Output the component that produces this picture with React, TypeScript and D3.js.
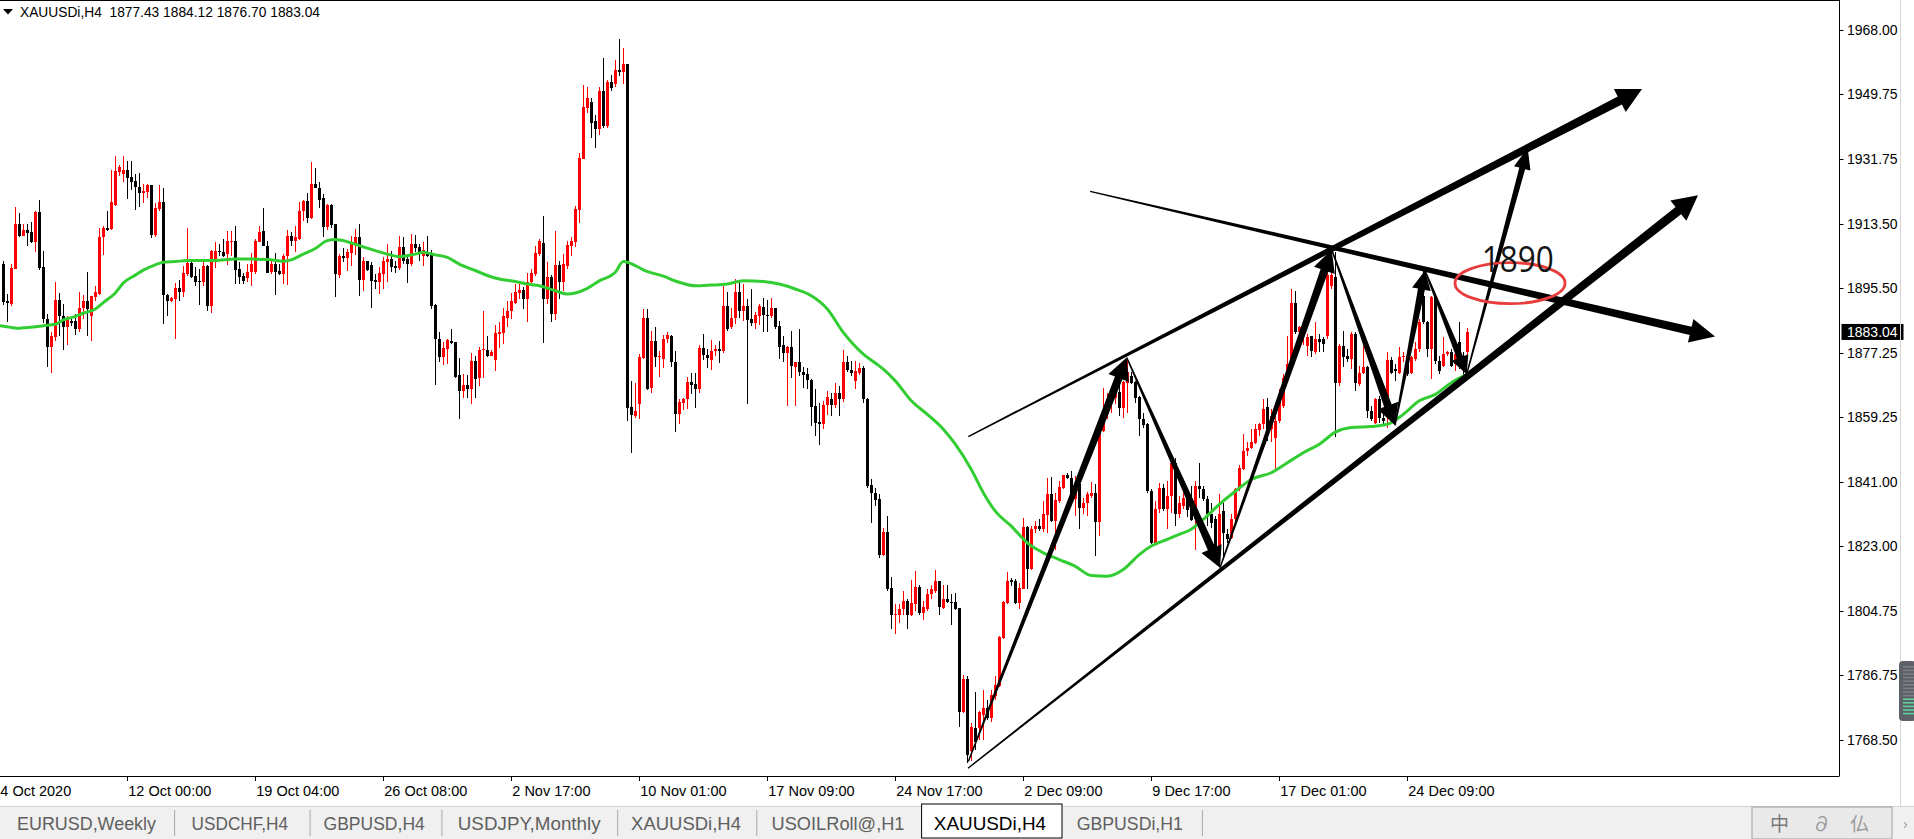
import React from 'react';
import * as d3 from 'd3';

// ---------- DATA (XAUUSDi, H4) ----------
const opens = [
1902.1,1891.6,1890.9,1900.7,1913.4,1910.1,1911.8,1911.0,1908.2,1916.7,
1901.2,1886.7,1878.7,1881.5,1892.0,1887.6,1884.3,1886.0,1886.0,1883.8,
1889.8,1891.6,1887.4,1893.0,1893.7,1909.6,1912.2,1912.0,1918.6,1927.9,
1927.5,1928.4,1926.5,1925.4,1923.7,1922.1,1922.3,1924.2,1910.3,1917.6,
1919.5,1893.5,1891.7,1892.3,1895.4,1894.2,1899.3,1902.4,1898.8,1897.4,
1897.2,1901.7,1890.2,1902.6,1905.9,1905.4,1904.8,1908.3,1908.5,1900.6,
1898.8,1898.1,1899.8,1899.8,1908.4,1911.3,1907.3,1899.8,1902.1,1900.1,
1899.3,1904.3,1910.1,1908.5,1909.2,1917.0,1919.8,1915.0,1924.5,1923.5,
1920.6,1912.5,1918.7,1913.4,1899.1,1904.3,1903.8,1905.1,1907.6,1909.6,
1897.6,1902.9,1901.9,1897.6,1897.0,1899.3,1902.8,1903.5,1901.5,1901.0,
1906.8,1903.4,1902.0,1907.8,1906.8,1904.3,1905.4,1904.7,1890.6,1881.2,
1875.9,1878.2,1880.6,1880.1,1870.9,1866.5,1868.1,1867.0,1874.9,1870.2,
1877.9,1878.0,1876.3,1875.2,1882.5,1882.7,1887.1,1889.0,1891.3,1894.0,
1894.8,1892.3,1897.0,1899.3,1904.9,1907.9,1892.3,1898.4,1888.1,1901.9,
1897.2,1901.7,1907.3,1908.2,1917.3,1931.7,1945.9,1947.6,1942.2,1940.1,
1950.7,1940.8,1953.3,1952.6,1956.5,1956.1,1958.4,1862.1,1859.5,1862.7,
1875.6,1887.1,1867.2,1880.6,1875.9,1875.4,1881.0,1882.0,1874.7,1859.9,
1863.2,1864.1,1869.1,1868.4,1866.9,1878.4,1876.6,1875.2,1877.6,1878.2,
1877.6,1890.4,1884.3,1886.9,1894.3,1888.9,1890.4,1886.7,1885.5,1887.6,
1890.0,1887.9,1887.6,1889.7,1884.6,1879.4,1877.1,1878.7,1873.3,1874.5,
1871.9,1871.2,1869.6,1862.3,1857.8,1857.1,1862.5,1864.3,1862.5,1865.8,
1864.1,1874.5,1872.4,1869.3,1871.6,1872.8,1864.3,1840.0,1837.9,1836.0,
1820.5,1826.8,1811.0,1803.4,1803.6,1805.1,1807.4,1803.6,1806.6,1811.3,
1804.1,1805.1,1809.3,1810.4,1813.0,1805.5,1807.9,1807.3,1807.1,1805.5,
1776.4,1785.5,1765.2,1771.9,1771.8,1775.5,1777.4,1774.6,1780.9,1783.6,
1797.1,1806.9,1813.3,1813.0,1806.9,1810.9,1828.2,1816.5,1827.6,1828.5,
1827.6,1831.5,1837.6,1829.9,1835.5,1839.3,1843.0,1842.1,1836.2,1840.2,
1833.7,1835.1,1836.9,1837.9,1829.7,1855.2,1859.9,1863.2,1864.6,1866.2,
1861.8,1868.8,1870.7,1869.0,1864.9,1858.7,1857.1,1838.4,1823.6,1833.2,
1839.3,1833.2,1836.9,1846.3,1831.8,1834.1,1836.5,1834.1,1830.4,1839.7,
1838.8,1836.0,1831.8,1830.4,1822.4,1832.8,1826.2,1825.2,1830.4,1838.8,
1844.6,1849.6,1850.5,1851.9,1855.5,1857.1,1862.0,1855.7,1853.3,1858.0,
1862.3,1869.8,1873.5,1891.3,1882.9,1882.0,1879.2,1881.8,1877.5,1881.0,
1881.0,1881.9,1896.0,1898.4,1868.8,1879.2,1876.3,1875.4,1882.4,1868.4,
1871.5,1873.1,1860.9,1857.6,1864.1,1859.0,1863.2,1875.2,1872.6,1871.6,
1875.9,1875.9,1871.6,1875.4,1878.2,1893.2,1885.7,1878.2,1892.8,1874.9,
1873.5,1876.8,1877.3,1874.0,1880.1,1876.3,1877.43
];
const highs = [
1902.9,1893.7,1902.1,1918.1,1916.4,1913.4,1913.4,1913.9,1917.1,1920.2,
1905.7,1888.1,1882.9,1897.0,1893.9,1890.9,1887.6,1886.7,1888.1,1894.4,
1893.5,1899.8,1893.2,1896.0,1912.2,1912.7,1917.1,1928.4,1932.4,1929.8,
1932.4,1931.2,1931.2,1927.5,1927.6,1924.6,1924.6,1924.2,1919.3,1924.4,
1923.4,1893.7,1893.0,1896.8,1897.7,1901.7,1912.2,1902.8,1901.2,1900.7,
1902.6,1901.9,1906.2,1908.2,1907.8,1909.2,1911.5,1911.5,1912.9,1902.6,
1899.6,1902.1,1905.2,1909.2,1912.9,1917.8,1908.5,1903.1,1905.1,1902.1,
1904.9,1911.7,1911.0,1912.9,1919.5,1920.2,1922.1,1930.7,1929.1,1925.3,
1921.8,1919.0,1919.0,1913.4,1904.9,1906.5,1906.4,1909.9,1912.0,1913.4,
1904.0,1903.1,1902.6,1899.3,1901.2,1904.0,1907.8,1905.9,1903.1,1909.9,
1909.6,1904.9,1910.6,1910.3,1907.8,1908.2,1909.9,1906.1,1890.9,1883.1,
1880.1,1881.0,1884.0,1880.3,1875.6,1871.2,1871.0,1877.1,1876.3,1878.7,
1888.8,1881.8,1878.0,1885.0,1885.7,1889.9,1891.8,1893.9,1896.5,1896.5,
1895.8,1899.6,1900.7,1907.1,1909.2,1915.5,1902.6,1899.0,1911.3,1903.1,
1904.8,1908.7,1909.6,1918.4,1933.4,1952.5,1951.8,1948.8,1943.9,1951.8,
1960.0,1953.7,1955.1,1959.5,1965.2,1962.8,1958.4,1869.3,1868.6,1876.8,
1889.5,1889.5,1883.4,1884.3,1877.7,1882.1,1883.1,1882.1,1877.7,1864.1,
1864.6,1870.5,1871.5,1871.6,1879.3,1882.6,1878.2,1880.8,1879.3,1880.6,
1896.0,1894.3,1889.7,1897.9,1897.0,1896.5,1892.3,1895.1,1888.7,1890.9,
1892.5,1892.1,1892.5,1889.9,1886.2,1881.8,1879.2,1883.4,1874.6,1883.8,
1873.1,1872.8,1869.8,1866.9,1863.2,1863.7,1866.5,1866.0,1868.6,1867.9,
1878.0,1876.3,1874.9,1874.9,1874.3,1873.5,1864.6,1841.8,1839.3,1837.4,
1828.0,1831.3,1814.2,1806.5,1806.5,1810.2,1807.9,1813.3,1815.8,1811.9,
1807.4,1810.9,1811.9,1816.3,1813.0,1811.9,1811.9,1809.5,1809.7,1805.5,
1786.8,1786.5,1773.3,1781.8,1776.6,1782.4,1779.7,1782.4,1786.5,1797.5,
1807.4,1815.6,1814.0,1813.7,1812.6,1830.8,1828.5,1828.5,1829.9,1830.4,
1835.5,1842.1,1842.3,1837.9,1841.2,1843.0,1843.3,1844.0,1842.6,1840.2,
1836.5,1838.1,1840.9,1840.2,1855.7,1867.4,1866.0,1867.0,1868.8,1868.8,
1869.3,1875.4,1871.7,1869.3,1865.1,1860.4,1857.6,1838.8,1835.5,1840.7,
1840.4,1841.2,1847.3,1847.7,1836.9,1837.9,1838.0,1839.7,1841.2,1846.3,
1839.7,1837.0,1835.1,1831.3,1837.4,1835.1,1827.6,1831.8,1839.2,1845.8,
1854.3,1852.0,1855.7,1857.1,1857.6,1864.2,1864.6,1861.3,1859.4,1866.9,
1871.1,1881.9,1895.1,1894.6,1884.8,1885.0,1882.4,1882.0,1885.7,1882.4,
1881.5,1899.8,1900.3,1905.4,1879.6,1883.4,1878.2,1883.1,1882.9,1873.5,
1879.1,1873.5,1862.3,1864.6,1865.0,1861.0,1877.3,1875.9,1874.0,1878.7,
1877.3,1876.3,1876.3,1880.1,1886.7,1900.4,1886.2,1893.2,1893.2,1876.3,
1881.5,1877.7,1878.2,1878.0,1885.7,1877.3,1884.12
];
const lows = [
1890.6,1885.7,1890.4,1900.7,1909.6,1909.9,1907.1,1908.0,1905.4,1900.5,
1885.5,1873.1,1871.5,1880.4,1882.0,1878.0,1879.3,1884.8,1882.3,1882.9,
1886.7,1881.8,1880.4,1891.8,1893.4,1904.7,1911.5,1911.8,1918.4,1926.8,
1925.3,1920.4,1923.0,1917.3,1918.1,1919.2,1920.7,1909.5,1909.8,1917.0,
1885.2,1887.6,1891.5,1881.0,1891.6,1893.0,1898.8,1898.1,1896.0,1890.6,
1896.0,1889.0,1888.5,1900.9,1904.5,1904.0,1901.9,1904.5,1896.5,1896.5,
1896.5,1897.0,1896.0,1899.3,1908.2,1907.1,1899.6,1899.3,1893.4,1899.0,
1896.5,1896.2,1907.3,1905.4,1909.0,1914.1,1913.6,1914.8,1923.4,1917.8,
1909.6,1911.8,1912.2,1892.8,1898.1,1902.6,1900.3,1901.5,1904.7,1893.2,
1894.6,1900.3,1889.8,1895.1,1893.7,1895.1,1897.0,1899.8,1899.6,1900.5,
1902.1,1896.8,1901.7,1905.4,1903.1,1901.5,1904.0,1889.5,1868.2,1874.5,
1873.8,1874.0,1879.6,1870.2,1858.5,1864.4,1864.4,1862.7,1864.6,1867.9,
1870.2,1875.9,1876.2,1872.1,1878.5,1879.6,1884.3,1886.7,1890.9,1892.3,
1889.5,1885.7,1896.5,1898.8,1904.5,1879.9,1890.9,1885.9,1886.5,1892.3,
1894.6,1900.7,1904.5,1907.0,1913.6,1931.7,1944.6,1937.5,1934.8,1938.4,
1940.4,1940.3,1950.7,1951.9,1954.9,1952.6,1858.1,1848.9,1859.0,1858.7,
1875.4,1866.7,1866.0,1873.3,1870.5,1872.9,1879.9,1873.1,1854.8,1857.3,
1861.1,1861.3,1865.6,1861.8,1866.0,1875.1,1872.8,1872.4,1876.3,1874.3,
1877.1,1883.4,1883.8,1885.3,1887.1,1886.2,1862.7,1884.8,1883.8,1885.1,
1882.9,1883.1,1887.1,1884.0,1875.4,1874.5,1862.3,1870.0,1862.3,1870.7,
1867.2,1866.9,1856.6,1853.8,1851.2,1855.7,1859.6,1859.5,1861.8,1859.3,
1863.4,1871.8,1870.7,1866.9,1870.9,1863.0,1839.3,1829.3,1834.1,1819.6,
1820.1,1810.2,1799.6,1798.3,1801.3,1803.6,1799.6,1803.2,1804.6,1803.6,
1802.1,1804.6,1807.9,1809.8,1803.6,1805.1,1806.9,1800.8,1805.0,1772.2,
1776.0,1761.9,1762.4,1765.7,1768.3,1768.3,1774.1,1773.6,1779.7,1783.3,
1796.8,1806.7,1811.6,1806.7,1805.2,1810.7,1810.7,1816.1,1826.6,1827.1,
1826.8,1826.6,1829.6,1821.9,1835.1,1838.8,1841.6,1835.5,1831.3,1827.6,
1831.8,1831.3,1836.5,1820.1,1825.7,1854.8,1858.5,1860.4,1862.8,1859.5,
1859.0,1860.4,1868.4,1863.2,1853.8,1856.2,1837.9,1823.4,1823.4,1832.3,
1832.7,1827.6,1832.3,1828.5,1830.8,1833.2,1831.0,1829.9,1821.9,1836.5,
1835.5,1828.5,1828.1,1821.5,1817.0,1819.5,1823.8,1824.8,1829.9,1838.3,
1844.4,1848.2,1850.1,1851.5,1853.8,1855.7,1852.4,1852.0,1844.4,1857.6,
1861.8,1869.8,1872.6,1882.4,1881.0,1879.5,1876.3,1875.9,1876.8,1877.3,
1877.3,1881.0,1895.1,1853.4,1867.9,1873.1,1874.5,1872.6,1866.5,1867.9,
1871.2,1859.0,1858.0,1857.1,1857.5,1857.0,1856.2,1871.2,1869.3,1871.2,
1874.5,1870.7,1871.2,1874.9,1877.5,1885.2,1875.9,1869.8,1874.0,1871.2,
1873.1,1876.3,1873.1,1872.0,1872.6,1870.7,1876.70
];
const closes = [
1891.4,1891.2,1900.9,1913.4,1909.9,1911.8,1910.9,1908.2,1916.7,1900.9,
1886.7,1878.7,1881.8,1892.0,1887.4,1884.3,1886.7,1885.6,1883.8,1889.9,
1891.6,1889.5,1893.2,1894.2,1909.8,1912.2,1911.8,1919.5,1928.2,1929.3,
1928.4,1926.2,1925.1,1923.7,1922.1,1922.6,1924.2,1910.3,1917.8,1919.5,
1893.4,1891.7,1892.5,1895.4,1894.3,1899.6,1902.4,1898.4,1897.2,1897.2,
1901.5,1890.2,1905.9,1905.7,1905.4,1904.5,1908.5,1908.5,1900.4,1898.4,
1897.4,1899.8,1902.1,1908.5,1911.2,1907.3,1899.6,1902.1,1899.8,1899.3,
1904.3,1910.1,1908.5,1909.8,1917.0,1919.8,1915.0,1924.5,1923.5,1920.2,
1912.5,1918.6,1913.1,1899.3,1904.3,1903.8,1905.4,1907.8,1909.6,1897.6,
1902.9,1900.4,1897.4,1897.2,1899.5,1902.9,1903.5,1901.4,1901.0,1906.8,
1902.9,1902.0,1907.8,1906.6,1905.4,1906.1,1904.5,1890.4,1881.0,1875.9,
1878.5,1880.7,1879.9,1870.5,1866.5,1868.1,1867.0,1874.9,1869.9,1878.0,
1878.2,1876.3,1877.5,1882.7,1883.1,1887.4,1889.0,1891.6,1894.4,1894.8,
1892.3,1897.2,1899.5,1905.1,1908.5,1892.3,1898.4,1888.1,1901.9,1897.2,
1902.1,1907.5,1908.5,1917.6,1931.9,1946.2,1948.8,1941.8,1940.1,1950.7,
1940.8,1953.3,1951.7,1956.7,1956.1,1958.4,1861.8,1859.6,1860.7,1875.9,
1887.1,1867.1,1880.6,1875.9,1876.3,1881.2,1882.1,1874.6,1859.9,1863.4,
1864.1,1869.1,1868.1,1866.9,1878.4,1876.5,1875.6,1877.7,1878.2,1877.7,
1890.2,1884.0,1887.1,1894.3,1888.9,1890.4,1886.4,1885.5,1887.8,1890.2,
1887.8,1887.6,1889.7,1884.3,1878.7,1877.1,1878.7,1873.5,1874.5,1871.7,
1870.9,1869.6,1862.1,1857.4,1857.1,1862.6,1864.9,1862.5,1865.8,1864.1,
1874.5,1872.3,1871.5,1872.1,1872.8,1864.1,1839.8,1837.9,1835.8,1820.5,
1826.8,1810.7,1803.4,1803.8,1805.3,1807.4,1803.6,1806.9,1811.3,1804.1,
1805.7,1809.3,1810.7,1813.0,1805.8,1807.9,1807.3,1806.9,1805.2,1776.4,
1785.5,1764.3,1772.2,1768.0,1776.2,1777.4,1774.6,1781.1,1783.9,1797.4,
1807.1,1813.0,1812.8,1806.9,1811.0,1828.2,1816.5,1827.6,1828.5,1827.6,
1831.8,1837.4,1829.9,1835.7,1839.5,1842.8,1841.9,1836.0,1840.2,1833.7,
1835.1,1837.6,1837.7,1829.7,1855.2,1860.4,1864.1,1865.1,1866.5,1861.8,
1869.0,1871.7,1868.7,1864.6,1858.5,1856.8,1838.4,1823.8,1833.2,1839.3,
1833.2,1836.9,1846.3,1831.8,1835.1,1836.5,1833.0,1830.2,1839.7,1838.8,
1836.0,1831.8,1829.4,1822.4,1831.8,1826.7,1824.9,1830.4,1838.8,1844.9,
1849.6,1850.5,1852.1,1855.7,1857.1,1861.3,1855.7,1859.5,1858.0,1864.1,
1870.2,1874.0,1891.3,1882.9,1884.3,1883.5,1881.5,1877.8,1881.0,1880.1,
1879.6,1898.9,1898.9,1868.8,1879.2,1875.9,1875.4,1882.4,1868.8,1871.6,
1873.1,1860.9,1858.5,1864.1,1859.0,1858.0,1875.2,1871.6,1872.1,1875.9,
1876.3,1871.2,1875.9,1878.2,1885.7,1885.7,1878.2,1892.8,1874.9,1872.1,
1876.8,1877.3,1873.5,1876.8,1873.1,1874.9,1883.04
];

// Moving average (green line) read at bar indices
const maBars = [-1,2,4,8,10,13,15,18,20,23,25,28,30,33,35,38,40,43,46,49,53,58,62,66,70,72,75,78,81,83,86,89,93,96,99,103,105,108,111,114,118,121,124,128,131,134,138,141,143,146,149,153,155,158,160,165,169,173,177,181,185,190,194,198,202,206,210,215,218,220,223,227,231,235,238,242,245,248,252,256,260,264,268,272,276,280,284,287,291,294,297,300,304,308,312,317,321,325,329,333,337,342,346,350,354,358,362,366];
const maValues = [1884.8,1884.3,1884.1,1884.5,1884.8,1885.2,1886.4,1887.4,1888.3,1889.5,1891.3,1894.0,1896.8,1899.0,1900.4,1901.9,1902.6,1902.8,1903.1,1903.1,1903.1,1903.5,1903.5,1903.4,1902.9,1903.3,1904.9,1906.5,1908.7,1909.0,1908.4,1907.3,1905.9,1904.9,1904.2,1904.9,1905.4,1904.7,1904.0,1902.1,1900.3,1898.9,1897.9,1897.2,1896.5,1896.0,1894.6,1893.7,1894.0,1895.3,1897.4,1899.8,1902.8,1901.7,1900.5,1898.7,1897.0,1896.0,1896.2,1896.5,1897.4,1897.2,1896.5,1895.1,1893.2,1889.5,1882.9,1876.8,1874.3,1872.6,1869.3,1863.7,1859.9,1855.7,1851.5,1844.4,1837.9,1832.7,1828.5,1823.8,1821.0,1819.1,1817.2,1814.6,1814.4,1816.3,1820.5,1822.9,1824.8,1826.2,1827.6,1830.4,1834.6,1838.3,1841.6,1843.5,1846.3,1849.1,1851.5,1854.9,1856.2,1856.5,1857.1,1859.9,1863.7,1865.5,1868.8,1871.2];

const priceTicks = [1968.00,1949.75,1931.75,1913.50,1895.50,1877.25,1859.25,1841.00,1823.00,1804.75,1786.75,1768.50];
const timeTickBars = [-1,31,63,95,127,159,191,223,255,287,319,351];
const timeTickLabels = ['4 Oct 2020','12 Oct 00:00','19 Oct 04:00','26 Oct 08:00','2 Nov 17:00','10 Nov 01:00','17 Nov 09:00','24 Nov 17:00','2 Dec 09:00','9 Dec 17:00','17 Dec 01:00','24 Dec 09:00'];
const tabLabels = ['EURUSD,Weekly','USDCHF,H4','GBPUSD,H4','USDJPY,Monthly','XAUUSDi,H4','USOILRoll@,H1','XAUUSDi,H4','GBPUSDi,H1'];
const symbolTitle = 'XAUUSDi,H4';
const lastOHLC = [1877.43, 1884.12, 1876.70, 1883.04];
const lastPrice = 1883.04;

// Hand-drawn annotation arrows: [bar, price] endpoints
const arrowFrom = [[241.25,1853.64],[241.18,1760.50],[271.7,1922.53],[241.25,1762.38],[280.85,1875.87],[304.18,1816.78],[332.1,1906.18],[347.93,1856.82],[355.43,1900.27],[365.85,1871.17]];
const arrowTo   = [[409.68,1951.29],[423.68,1921.46],[427.93,1881.78],[280.85,1875.87],[304.18,1816.78],[332.1,1906.18],[347.93,1856.82],[355.43,1900.27],[365.85,1871.17],[381.1,1934.69]];
const targetLabel = '1890';
const targetAnchor = [369.6, 1899.79];
const ellipseCenter = [376.68, 1896.75];

// ---------- RENDER ----------
const W = 1914, H = 839;
const PR = 1839.5, PB = 776;

function taper(x1:number,y1:number,x2:number,y2:number,w0:number,w1:number,hl:number,hh:number){
  const dx=x2-x1, dy=y2-y1, len=Math.hypot(dx,dy);
  const ux=dx/len, uy=dy/len, nx=-uy, ny=ux;
  const bx=x2-ux*hl, by=y2-uy*hl;
  const pts=[
    [x1+nx*w0/2,y1+ny*w0/2],[bx+nx*w1/2,by+ny*w1/2],[bx+nx*hh,by+ny*hh],[x2,y2],
    [bx-nx*hh,by-ny*hh],[bx-nx*w1/2,by-ny*w1/2],[x1-nx*w0/2,y1-ny*w0/2]
  ];
  return pts.map(p=>p[0].toFixed(2)+','+p[1].toFixed(2)).join(' ');
}

const arrowStyle = [
  {w1:9,hl:25,hh:13},{w1:9,hl:25,hh:13},{w1:8.5,hl:25,hh:12},
  {w1:8,hl:22,hh:11},{w1:8,hl:21,hh:11},{w1:8,hl:22,hh:11},{w1:8,hl:21,hh:11},
  {w1:7,hl:19,hh:9.5},{w1:6.5,hl:18,hh:9},{w1:6,hl:21,hh:8.5}
];

export default function App(){
  const n = closes.length;
  const x = d3.scaleLinear().domain([0,n-1]).range([3.3,3.3+4*(n-1)]);
  const y = d3.scaleLinear().domain([1968,1768.5]).range([29.5,29.5+199.5*3.56]);
  const maPath = d3.line<number>().x((d,i)=>x(maBars[i])).y(d=>y(d)).curve(d3.curveMonotoneX)(maValues) || '';
  const font = "'Liberation Sans', Arial, sans-serif";

  const tabLayout = [
    {x:17,w:139},{x:191.6,w:96.5},{x:323.5,w:101.3},{x:457.8,w:142.8},
    {x:631.1,w:109.9},{x:771.5,w:133},{x:933.8,w:112.3,active:true},{x:1076.7,w:106.2}
  ];
  const tabSeps = [174.6,310.1,441.9,617.7,756.8,1202.4];

  return (
    <div style={{position:'fixed',left:0,top:0,width:W,height:H,background:'#fff'}}>
      <svg width={W} height={H} style={{display:'block'}} fontFamily={font}>
        <defs>
          <clipPath id="plot"><rect x={0} y={1} width={PR} height={PB-1}/></clipPath>
        </defs>
        <rect x={0} y={0} width={W} height={H} fill="#fff"/>
        {/* candles */}
        <g clipPath="url(#plot)" shapeRendering="crispEdges">
          {closes.map((c,i)=>{
            const o=opens[i], h=highs[i], l=lows[i];
            const cx=Math.round(x(i));
            const col = c>=o ? '#ff0000' : '#000000';
            const top=y(Math.max(o,c)), bot=y(Math.min(o,c));
            return (
              <g key={i}>
                <rect x={cx} y={y(h)} width={1} height={Math.max(1,y(l)-y(h))} fill={col}/>
                <rect x={cx-1} y={top} width={3} height={Math.max(1,bot-top)} fill={col}/>
              </g>
            );
          })}
        </g>
        {/* moving average */}
        <g clipPath="url(#plot)">
          <path d={maPath} fill="none" stroke="#32cd32" strokeWidth={3} strokeLinejoin="round"/>
        </g>
        {/* annotations */}
        <g clipPath="url(#plot)">
          {arrowFrom.map((f,i)=>{
            const t=arrowTo[i], s=arrowStyle[i];
            return <polygon key={i} points={taper(x(f[0]),y(f[1]),x(t[0]),y(t[1]),1.4,s.w1,s.hl,s.hh)} fill="#000"/>;
          })}
          <ellipse cx={x(ellipseCenter[0])} cy={y(ellipseCenter[1])} rx={55} ry={20.5} fill="none" stroke="#e83c3c" strokeWidth={2.8}/>
          <text x={x(targetAnchor[0])} y={y(targetAnchor[1])} fontFamily="'Open Sans', 'Noto Sans', sans-serif" fontSize={37} textLength={72} lengthAdjust="spacingAndGlyphs" fill="#141414">{targetLabel}</text>
        </g>
        {/* frame */}
        <line x1={0} y1={0.5} x2={PR} y2={0.5} stroke="#000"/>
        <line x1={PR} y1={0} x2={PR} y2={PB} stroke="#000"/>
        <line x1={0} y1={PB+0.5} x2={PR} y2={PB+0.5} stroke="#000"/>
        {/* header */}
        <polygon points="3,9 13,9 8,14.5" fill="#000"/>
        <text x={20} y={17} fontSize={14.5} textLength={300} lengthAdjust="spacingAndGlyphs" fill="#000" xmlSpace="preserve">{symbolTitle + '  ' + lastOHLC.map(v=>v.toFixed(2)).join(' ')}</text>
        {/* price axis */}
        {priceTicks.map((p,i)=>(
          <g key={i}>
            <line x1={PR} x2={PR+4} y1={Math.round(y(p))+0.5} y2={Math.round(y(p))+0.5} stroke="#000"/>
            <text x={1847} y={y(p)+5} fontSize={14} fill="#000">{p.toFixed(2)}</text>
          </g>
        ))}
        <rect x={PR+2} y={y(lastPrice)-8} width={62} height={16} fill="#000"/>
        <text x={1847} y={y(lastPrice)+5} fontSize={14} fill="#fff">{lastPrice.toFixed(2)}</text>
        {/* time axis */}
        {timeTickBars.map((b,i)=>(
          <g key={i}>
            <line x1={Math.round(x(b))+0.5} x2={Math.round(x(b))+0.5} y1={PB} y2={PB+5} stroke="#000"/>
            <text x={Math.max(0,x(b)+1)} y={796} fontSize={14.5} fill="#000">{timeTickLabels[i]}</text>
          </g>
        ))}
        {/* right edge */}
        <line x1={1900.5} y1={0} x2={1900.5} y2={806} stroke="#d4d4d4"/>
        <rect x={1899} y={661} width={17} height={60} rx={4} fill="#5d6066"/>
        {d3.range(14).map(i=>(
          <rect key={i} x={1903} y={666+i*3.6} width={11} height={1.6} fill={i>8 ? '#5fcf9c' : '#7c7f86'}/>
        ))}
        {/* tab bar */}
        <rect x={0} y={806} width={W} height={33} fill="#f0f0f0"/>
        <line x1={0} y1={806.5} x2={W} y2={806.5} stroke="#d2d2d2"/>
        {tabSeps.map((s,i)=>(<line key={i} x1={s} x2={s} y1={810} y2={836} stroke="#a8a8a8"/>))}
        <rect x={921.6} y={804} width={140.4} height={34} fill="#fff" stroke="#000" strokeWidth={1}/>
        {tabLabels.map((t,i)=>(
          <text key={i} x={tabLayout[i].x} y={830} fontSize={18} textLength={tabLayout[i].w} lengthAdjust="spacingAndGlyphs" fill={tabLayout[i].active ? '#000' : '#5f5f5f'}>{t}</text>
        ))}
        {/* stamp logo */}
        <rect x={1752} y={807} width={140} height={32} fill="#e9e9e9" stroke="#a0a0a0"/>
        <text x={1770} y={831} fontSize={19} fill="#7a7a7a" fontFamily="'Noto Sans CJK SC', sans-serif">中</text>
        <text x={1812} y={831} fontSize={19} fill="#9a9a9a" fontFamily="'Noto Sans CJK SC', sans-serif">∂</text>
        <text x={1850} y={831} fontSize={19} fill="#9a9a9a" fontFamily="'Noto Sans CJK SC', sans-serif">仏</text>
        <text x={1903} y={829} fontSize={14} fill="#9a9a9a">›</text>
      </svg>
    </div>
  );
}
